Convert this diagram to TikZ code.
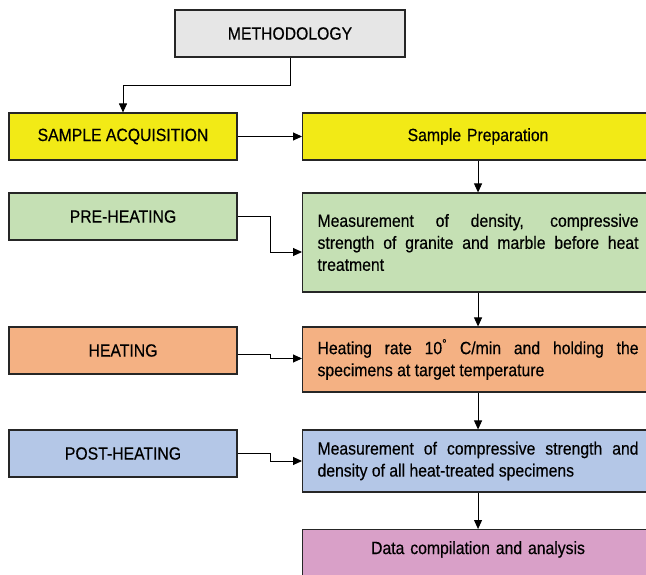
\documentclass[tikz,border=0pt]{standalone}
\usepackage{fontspec}
\setmainfont{Liberation Sans}[FakeStretch=0.89, FakeBold=0.4]
\usetikzlibrary{arrows.meta}

\definecolor{methgray}{RGB}{230,230,230}
\definecolor{acqyellow}{RGB}{242,234,22}
\definecolor{pregreen}{RGB}{197,224,180}
\definecolor{heatorange}{RGB}{244,177,131}
\definecolor{postblue}{RGB}{180,199,231}
\definecolor{datapink}{RGB}{217,160,200}

\hyphenpenalty=10000
\exhyphenpenalty=10000

\begin{document}
\begin{tikzpicture}[x=1pt, y=-1pt,
	box/.style={draw=black!85, line width=1.1pt, font=\fontsize{17.7}{22}\selectfont, inner sep=0pt},
	leftbox/.style={box, minimum width=228pt, minimum height=47pt},
	rightbox/.style={box, anchor=west, text width=321pt, inner xsep=15pt, minimum height=47pt, align=center},
	textbox/.style={rightbox, align=justify},
	arr/.style={line width=0.9pt, -{Triangle[length=9pt,width=8pt]}}]
	\useasboundingbox (0,0) rectangle (646,575);
	
	\node[leftbox, fill=methgray, minimum width=230pt] (meth) at (290,33.5) {METHODOLOGY};
	
	\node[leftbox, fill=acqyellow] (acq) at (123,136.5) {SAMPLE ACQUISITION};
	\node[rightbox, fill=acqyellow] (prep) at (302,136.5) {Sample Preparation};
	
	\node[leftbox, fill=pregreen] (pre) at (123,216.5) {PRE-HEATING};
	\node[textbox, fill=pregreen, minimum height=99pt] (dens) at (302,242.5) {Measurement of density, compressive\linebreak strength of granite and marble before heat\linebreak treatment};
	
	\node[leftbox, fill=heatorange] (heat) at (123,350.5) {HEATING};
	\node[textbox, fill=heatorange, minimum height=65pt] (rate) at (302,359.5) {Heating rate 10\textsuperscript{°} C/min and holding the\linebreak specimens at target temperature};
	
	\node[leftbox, fill=postblue] (post) at (123,453.5) {POST-HEATING};
	\node[textbox, fill=postblue, minimum height=62pt] (comp) at (302,461) {Measurement of compressive strength and\linebreak density of all heat-treated specimens};
	
	\node[rightbox, fill=datapink, anchor=north west, text height=12.5pt, text depth=17pt, inner ysep=12pt] (data) at (302,529) {Data compilation and analysis};
	
	\draw[arr] (meth.south) -- ++(0,28) -| (acq.north);
	\draw[arr] (acq) -- (prep);
	\draw[arr] (prep) -- (dens);
	\draw[arr] (dens) -- (rate);
	\draw[arr] (rate) -- (comp);
	\draw[arr] (comp) -- (data);
	
	\draw[arr] (pre.east) -- ++(33,0) |- ([yshift=-9.5pt]dens.west);
	\draw[arr] ([yshift=-3.5pt]heat.east) -- ++(33,0) |- ([yshift=1pt]rate.west);
	\draw[arr] (post.east) -- ++(33,0) |- (comp.west);
\end{tikzpicture}
\end{document}
